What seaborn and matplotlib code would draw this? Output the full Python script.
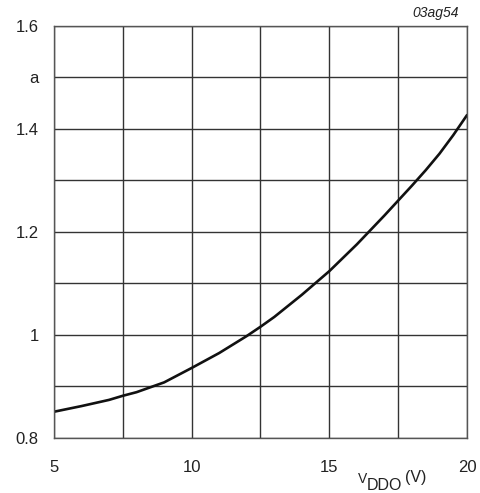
import matplotlib
matplotlib.use("Agg")
import matplotlib.pyplot as plt
import seaborn as sns
import pandas as pd
import numpy as np

vddo = [5, 6, 7, 7.5, 8, 9, 10, 11, 12, 12.5, 13, 14, 15, 16, 17, 17.5, 18, 18.5, 19, 19.5, 20]
ratio = [0.851, 0.862, 0.874, 0.882, 0.889, 0.908, 0.936, 0.965, 0.998, 1.016,
         1.035, 1.078, 1.124, 1.176, 1.232, 1.261, 1.29, 1.32, 1.352, 1.388, 1.427]

x_ticks = [5, 7.5, 10, 12.5, 15, 17.5, 20]
x_labels = ["5", "", "10", "", "15", "", "20"]
y_ticks = [0.8, 0.9, 1.0, 1.1, 1.2, 1.3, 1.4, 1.5, 1.6]
y_labels = ["0.8", "", "1", "", "1.2", "", "1.4", "a", "1.6"]

sns.set_style("white")
plt.rcParams['font.family'] = ['Liberation Sans', 'DejaVu Sans']

df = pd.DataFrame({"vddo": vddo, "ratio": ratio})

fig = plt.figure(figsize=(4.81, 4.93), dpi=100)
W, H = 481, 493
left, right, top, bottom = 54, 467, 26, 438
ax = fig.add_axes([left / W, 1 - bottom / H, (right - left) / W, (bottom - top) / H])

sns.lineplot(data=df, x="vddo", y="ratio", ax=ax, color="#111111", linewidth=1.9)

ax.set_xlim(5, 20)
ax.set_ylim(0.8, 1.6)
ax.set_xticks(x_ticks)
ax.set_xticklabels(x_labels)
ax.set_yticks(y_ticks)
ax.set_yticklabels(y_labels)
ax.tick_params(axis='both', length=0, labelsize=12, colors="#222222")
ax.tick_params(axis='x', pad=16)
ax.tick_params(axis='y', pad=11)
ax.grid(True, color="#333333", linewidth=1.0)
for s in ax.spines.values():
    s.set_color("#555555")
    s.set_linewidth(1.0)

ax.set_xlabel("")
ax.set_ylabel("")
# axis title: V_DDO (V)
fig.text(358 / W, 1 - 483 / H, "V", ha="left", va="baseline", fontsize=10, color="#222222")
fig.text(367 / W, 1 - 490 / H, "DDO", ha="left", va="baseline", fontsize=11.5, color="#222222")
fig.text(405 / W, 1 - 482 / H, "(V)", ha="left", va="baseline", fontsize=11.5, color="#222222")
fig.text(459 / W, 1 - 13 / H, "03ag54", ha="right", va="center", fontsize=10,
         style="italic", color="#222222")

fig.savefig("out.png", dpi=100)
